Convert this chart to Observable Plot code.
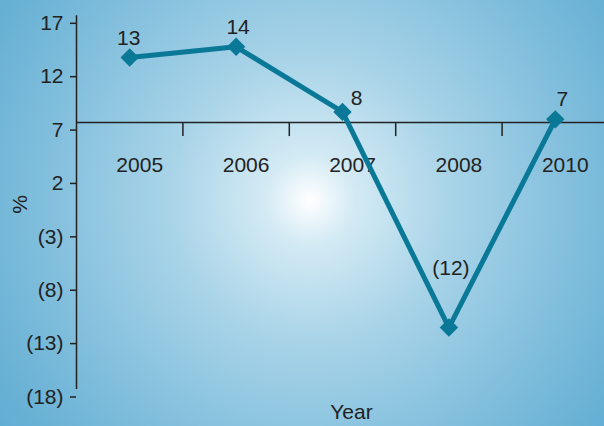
<!DOCTYPE html>
<html>
<head>
<meta charset="utf-8">
<script src="https://cdn.jsdelivr.net/npm/d3@7"></script>
<script src="https://cdn.jsdelivr.net/npm/@observablehq/plot@0.6"></script>
<style>
  html, body { margin: 0; padding: 0; }
  body {
    width: 604px; height: 426px; overflow: hidden;
    background: radial-gradient(circle at 310px 200px, #ffffff 0px, #d3eaf4 45px, #a9d4e8 140px, #86c1de 250px, #66b0d4 360px, #55a8cd 460px);
  }
  svg { display: block; }
</style>
</head>
<body>
<div id="chart"></div>
<script>
// ---- data ----
const years = ["2005", "2006", "2007", "2008", "2010"];
const values = [13.1, 14.1, 8.0, -12.2, 7.3];
const valueLabels = ["13", "14", "8", "(12)", "7"];
const yTicks = [17, 12, 7, 2, -3, -8, -13, -18];
const yAxisTitle = "%";
const xAxisTitle = "Year";

// ---- build ----
const data = years.map((year, i) => ({year, i, value: values[i], label: valueLabels[i]}));
const bandEdges = d3.range(1, years.length);
const lineColor = "#0a7897";
const ink = "#222";
const fmt = v => v < 0 ? `(${Math.abs(v)})` : `${v}`;

// per-label offsets (layout)
const labelOffsets = [[-1, -19], [2, -19], [14, -14], [2, -59], [7, -20]];

const plot = Plot.plot({
  width: 604,
  height: 426,
  marginTop: 15.3,
  marginBottom: 37,
  marginLeft: 76,
  marginRight: 0,
  style: {fontFamily: "'Liberation Sans', Arial, sans-serif", fontSize: "21px", background: "transparent", color: ink},
  x: {type: "linear", domain: [0, years.length], range: [76, 608], axis: null},
  y: {domain: [-18, 17], axis: null},
  marks: [
    // y axis
    Plot.ruleX([0], {y1: -18, y2: 17, stroke: ink, strokeWidth: 1.5}),
    Plot.axisY({ticks: yTicks, tickFormat: fmt, tickSize: 6, tickPadding: 7, dy: 7.5, fontSize: 21, stroke: ink, strokeWidth: 1.5, color: ink, label: null}),
    // x axis line at 7
    Plot.ruleY([7], {x1: 0, x2: years.length, stroke: ink, strokeWidth: 1.5}),
    Plot.ruleX(bandEdges, {y1: 7, y2: 7, insetBottom: -14, stroke: ink, strokeWidth: 1.5}),
    Plot.text(data, {x: d => d.i + 0.5, y: () => 7, text: "year", dy: 43, dx: 10, fill: ink, fontSize: 21}),
    // series
    Plot.line(data, {x: d => d.i + 0.5, y: "value", stroke: lineColor, strokeWidth: 5}),
    Plot.dot(data, {x: d => d.i + 0.5, y: "value", symbol: "diamond2", r: 8.3, fill: lineColor, stroke: "none"}),
    ...data.map((d, k) => Plot.text([d], {x: d => d.i + 0.5, y: "value", text: "label", dx: labelOffsets[k][0], dy: labelOffsets[k][1], fill: ink, fontSize: 21})),
    // axis titles
    Plot.text([yAxisTitle], {frameAnchor: "left", dx: -56, dy: 11, rotate: -90, fill: ink, fontSize: 21}),
    Plot.text([xAxisTitle], {frameAnchor: "bottom", dx: 11, dy: 29, fill: ink, fontSize: 21})
  ]
});
document.getElementById("chart").appendChild(plot);
</script>
</body>
</html>
